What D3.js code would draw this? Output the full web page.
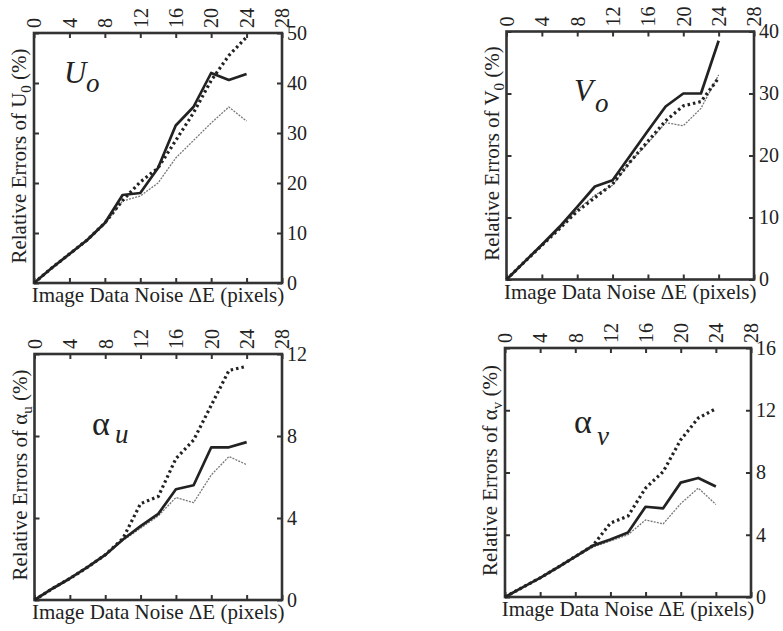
<!DOCTYPE html>
<html>
<head>
<meta charset="utf-8">
<script src="https://cdn.jsdelivr.net/npm/d3@7"></script>
<style>
  body { margin: 0; background: #fff; }
  svg { display: block; }
</style>
</head>
<body>
<div id="chart"></div>
<script>
const FONT = "'Liberation Serif', 'DejaVu Serif', 'Times New Roman', Times, serif";

// noise levels (pixels) at which errors were computed
const noise = [0, 2, 4, 6, 8, 10, 12, 14, 16, 18, 20, 22, 24];
const xTicks = [0, 4, 8, 12, 16, 20, 24, 28];

// U0
const u0Solid  = [0, 3.0, 5.8, 8.6, 12.0, 17.6, 18.0, 23.0, 31.5, 35.2, 42.0, 40.6, 41.8];
const u0Dotted = [0, 3.0, 5.8, 8.6, 12.0, 16.5, 20.2, 23.0, 28.5, 34.0, 40.5, 45.5, 49.2];
const u0Thin   = [0, 2.9, 5.6, 8.4, 11.8, 16.4, 17.4, 20.0, 25.0, 28.5, 32.0, 35.2, 32.4];
const u0Ticks  = [0, 10, 20, 30, 40, 50];

// V0
const v0Solid  = [0, 2.8, 5.6, 8.5, 11.7, 15.0, 16.0, 20.0, 24.0, 27.9, 30.0, 30.0, 38.5];
const v0Dotted = [0, 2.8, 5.5, 8.2, 11.0, 13.2, 15.4, 19.0, 22.3, 25.6, 28.0, 28.7, 32.5];
const v0Thin   = [0, 2.8, 5.5, 8.2, 11.2, 13.6, 15.2, 19.0, 22.0, 25.3, 24.8, 27.6, 33.0];
const v0Ticks  = [0, 10, 20, 30, 40];

// alpha u
const auSolid  = [0, 0.55, 1.05, 1.6, 2.2, 2.95, 3.6, 4.2, 5.4, 5.6, 7.45, 7.45, 7.7];
const auDotted = [0, 0.55, 1.05, 1.6, 2.2, 3.0, 4.7, 5.05, 6.9, 7.8, 9.5, 11.2, 11.4];
const auThin   = [0, 0.55, 1.05, 1.6, 2.2, 2.9, 3.5, 4.1, 5.0, 4.75, 6.1, 7.0, 6.6];
const auTicks  = [0, 4, 8, 12];

// alpha v
const avSolid  = [0, 0.62, 1.23, 1.9, 2.6, 3.3, 3.7, 4.15, 5.8, 5.7, 7.35, 7.65, 7.1];
const avDotted = [0, 0.62, 1.23, 1.9, 2.6, 3.3, 4.75, 5.2, 7.0, 8.05, 10.1, 11.5, 12.1];
const avThin   = [0, 0.6, 1.2, 1.85, 2.55, 3.2, 3.6, 4.0, 4.95, 4.7, 6.0, 7.0, 5.95];
const avTicks  = [0, 4, 8, 12, 16];

const panels = [
  {left: 34, top: 33, w: 248, h: 250, ticks: u0Ticks, series: [u0Solid, u0Dotted, u0Thin],
   sym: 'U', sub: '0', title: 'U', titleSub: 'o', italic: true, tx: 64, ty: 83, sx: 86, sy: 92},
  {left: 506.5, top: 31.5, w: 247.5, h: 248, ticks: v0Ticks, series: [v0Solid, v0Dotted, v0Thin],
   sym: 'V', sub: '0', title: 'V', titleSub: 'o', italic: true, tx: 574, ty: 101, sx: 595, sy: 112},
  {left: 34.5, top: 354, w: 247.5, h: 246, ticks: auTicks, series: [auSolid, auDotted, auThin],
   sym: 'α', sub: 'u', title: 'α', titleSub: 'u', italic: false, tx: 92, ty: 435, sx: 115, sy: 443},
  {left: 505, top: 348, w: 246, h: 249, ticks: avTicks, series: [avSolid, avDotted, avThin],
   sym: 'α', sub: 'v', title: 'α', titleSub: 'v', italic: false, tx: 574, ty: 433, sx: 597, sy: 445}
];

const lineStyles = [
  {stroke: '#222', width: 2.7, dash: null},
  {stroke: '#222', width: 3.2, dash: '2.5,3'},
  {stroke: '#777', width: 1.3, dash: '2,1.2'}
];

const svg = d3.select('#chart').append('svg')
  .attr('width', 783)
  .attr('height', 631)
  .attr('font-family', FONT);

panels.forEach(p => {
  const x = d3.scaleLinear().domain([0, 28]).range([0, p.w]);
  const yMax = p.ticks[p.ticks.length - 1];
  const y = d3.scaleLinear().domain([0, yMax]).range([p.h, 0]);

  const g = svg.append('g').attr('transform', `translate(${p.left},${p.top})`);

  // top axis with rotated labels
  const top = g.append('g').call(d3.axisTop(x).tickValues(xTicks).tickSize(-5).tickSizeOuter(0));
  top.selectAll('text')
    .attr('x', 5).attr('y', 0).attr('dy', '0.34em')
    .attr('transform', 'rotate(-90)')
    .style('text-anchor', 'start');

  g.append('g').attr('transform', `translate(0,${p.h})`)
    .call(d3.axisBottom(x).tickValues(xTicks).tickSize(-5).tickSizeOuter(0).tickFormat(''));

  g.append('g')
    .call(d3.axisLeft(y).tickValues(p.ticks).tickSize(-5).tickSizeOuter(0).tickFormat(''));

  g.append('g').attr('transform', `translate(${p.w},0)`)
    .call(d3.axisRight(y).tickValues(p.ticks).tickSize(-5).tickSizeOuter(0).tickPadding(5));

  g.selectAll('.domain').remove();
  g.selectAll('g').attr('font-family', FONT).attr('font-size', 20);
  g.selectAll('.tick line').attr('stroke', '#333').attr('stroke-width', 2);
  g.selectAll('.tick text').attr('fill', '#222').style('font-family', FONT).style('font-size', '20px');

  g.append('rect')
    .attr('width', p.w).attr('height', p.h)
    .attr('fill', 'none').attr('stroke', '#333').attr('stroke-width', 2.6);

  const line = d3.line()
    .x((d, i) => x(noise[i]))
    .y(d => y(d));

  // thin first so the heavy lines sit on top
  [2, 1, 0].forEach(k => {
    const st = lineStyles[k];
    g.append('path')
      .datum(p.series[k])
      .attr('d', line)
      .attr('fill', 'none')
      .attr('stroke', st.stroke)
      .attr('stroke-width', st.width)
      .attr('stroke-dasharray', st.dash)
      .attr('stroke-linejoin', 'round');
  });

  // x label
  svg.append('text')
    .attr('x', p.left + p.w / 2)
    .attr('y', p.top + p.h + 19)
    .attr('text-anchor', 'middle')
    .attr('fill', '#222')
    .style('font-family', FONT)
    .style('font-size', '21px')
    .text('Image Data Noise ΔE (pixels)');

  // y label
  const yl = svg.append('text')
    .attr('transform', `translate(${p.left - 8},${p.top + p.h / 2 - 2}) rotate(-90)`)
    .attr('text-anchor', 'middle')
    .attr('fill', '#222')
    .style('font-family', FONT)
    .style('font-size', '21px');
  yl.append('tspan').text('Relative Errors of ' + p.sym);
  yl.append('tspan').attr('dy', 5).style('font-size', '15px').text(p.sub);
  yl.append('tspan').attr('dy', -5).text(' (%)');

  // panel title
  svg.append('text')
    .attr('x', p.tx).attr('y', p.ty)
    .attr('fill', '#222')
    .style('font-family', FONT)
    .style('font-size', p.italic ? '31px' : '34px')
    .style('font-style', p.italic ? 'italic' : 'normal')
    .text(p.title);
  svg.append('text')
    .attr('x', p.sx).attr('y', p.sy)
    .attr('fill', '#222')
    .style('font-family', FONT)
    .style('font-size', '27px')
    .style('font-style', 'italic')
    .text(p.titleSub);
});
</script>
</body>
</html>
